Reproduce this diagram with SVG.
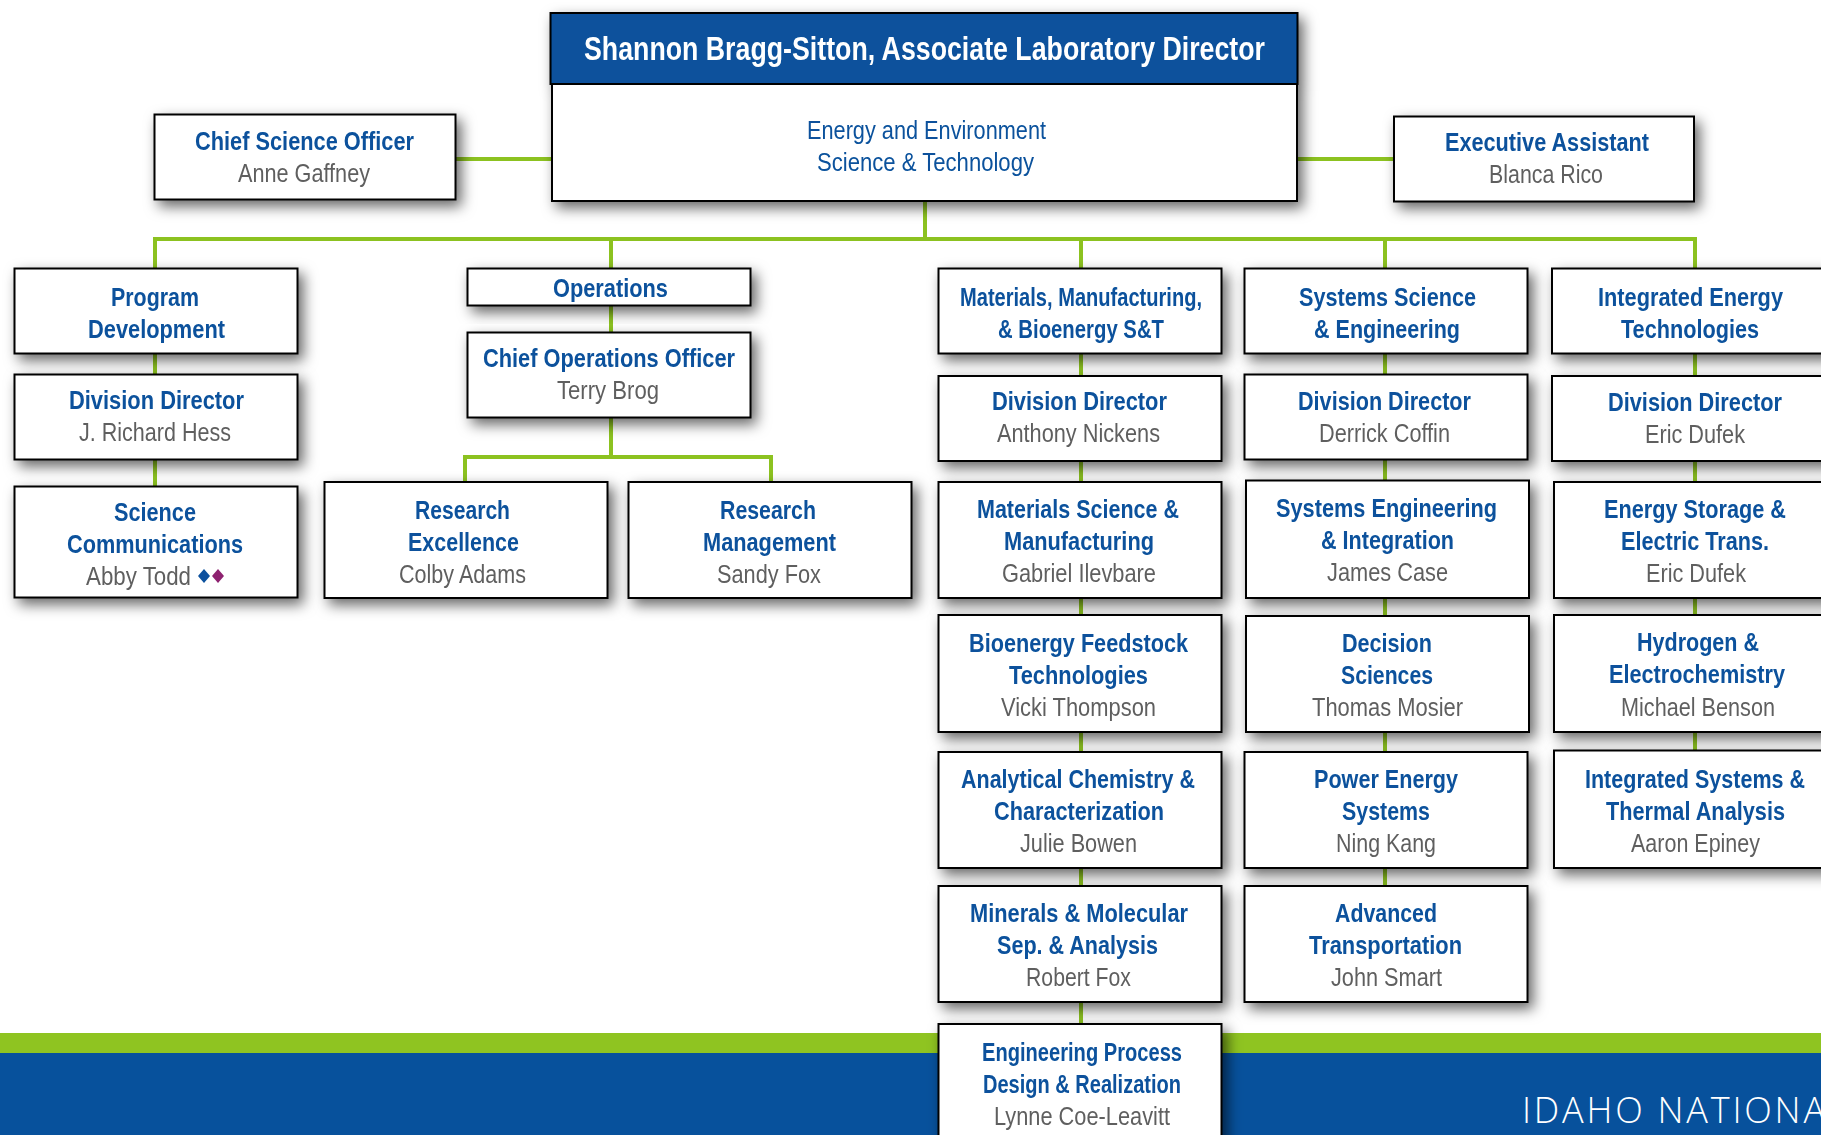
<svg xmlns="http://www.w3.org/2000/svg" width="1821" height="1135" viewBox="0 0 1821 1135">
<style>
text{font-family:"Liberation Sans",Arial,sans-serif;font-size:25px}
.t{font-weight:700;fill:#07519c}
.n{fill:#5f5f5f}
.s{fill:#07519c}
.box{fill:#fff;stroke:#000;stroke-width:2}
.c{stroke:#8cc220;stroke-width:4;fill:none}
</style>
<defs><filter id="sh" x="-25%" y="-40%" width="150%" height="190%"><feDropShadow dx="5" dy="6" stdDeviation="7" flood-color="#000" flood-opacity="0.6"/></filter></defs>
<g id="footer"><rect x="0" y="1033" width="1821" height="20" fill="#8fc421"/><rect x="0" y="1053" width="1821" height="82" fill="#07519c"/><text x="1522" y="1122.500" fill="#fff" style="font-family:'Open Sans',sans-serif;font-size:36px;font-weight:300" textLength="303" lengthAdjust="spacing">IDAHO NATIONA</text></g>
<g id="connectors">
<path class="c" d="M456 159H552M1298 159H1393M925 202V239M155 268V239H1695V268M611 239V268M1081 239V268M1385 239V268"/>
<path class="c" d="M155 354V486M611 306V332M611 418V457M465 482V457H771V482"/>
<path class="c" d="M1081 354V1024M1385 354V886M1695 354V750"/>
</g>
<g id="ald" filter="url(#sh)"><rect class="box" x="552" y="84" width="745" height="117"/><rect x="550.500" y="13" width="747" height="71" fill="#07519c" stroke="#000" stroke-width="2"/><text x="584" y="60" fill="#fff" font-weight="700" style="font-size:34px" textLength="681" lengthAdjust="spacingAndGlyphs">Shannon Bragg-Sitton, Associate Laboratory Director</text><text class="s" x="807" y="139" textLength="239" lengthAdjust="spacingAndGlyphs">Energy and Environment</text><text class="s" x="817" y="171" textLength="217" lengthAdjust="spacingAndGlyphs">Science &amp; Technology</text></g>
<g id="cso" filter="url(#sh)"><rect class="box" x="154.500" y="114.500" width="301" height="85"/><text class="t" x="195" y="150" textLength="219" lengthAdjust="spacingAndGlyphs">Chief Science Officer</text><text class="n" x="238" y="182" textLength="132" lengthAdjust="spacingAndGlyphs">Anne Gaffney</text></g>
<g id="ea" filter="url(#sh)"><rect class="box" x="1394" y="116.500" width="300" height="85"/><text class="t" x="1445" y="151" textLength="204" lengthAdjust="spacingAndGlyphs">Executive Assistant</text><text class="n" x="1489" y="183" textLength="114" lengthAdjust="spacingAndGlyphs">Blanca Rico</text></g>
<g id="pd" filter="url(#sh)"><rect class="box" x="14.500" y="268.500" width="283" height="85"/><text class="t" x="111" y="306" textLength="88" lengthAdjust="spacingAndGlyphs">Program</text><text class="t" x="88" y="338" textLength="137" lengthAdjust="spacingAndGlyphs">Development</text></g>
<g id="pd-dd" filter="url(#sh)"><rect class="box" x="14.500" y="374.500" width="283" height="85"/><text class="t" x="69" y="409" textLength="175" lengthAdjust="spacingAndGlyphs">Division Director</text><text class="n" x="79" y="441" textLength="152" lengthAdjust="spacingAndGlyphs">J. Richard Hess</text></g>
<g id="sc" filter="url(#sh)"><rect class="box" x="14.500" y="486.500" width="283" height="111"/><text class="t" x="114" y="521" textLength="82" lengthAdjust="spacingAndGlyphs">Science</text><text class="t" x="67" y="553" textLength="176" lengthAdjust="spacingAndGlyphs">Communications</text><text class="n" x="86" y="585" textLength="105" lengthAdjust="spacingAndGlyphs">Abby Todd</text><path d="M204 569l6 7-6 7-6-7z" fill="#0a519e"/><path d="M218 569l6 7-6 7-6-7z" fill="#8e2270"/></g>
<g id="ops" filter="url(#sh)"><rect class="box" x="467.500" y="268.500" width="283" height="37"/><text class="t" x="553" y="297" textLength="115" lengthAdjust="spacingAndGlyphs">Operations</text></g>
<g id="coo" filter="url(#sh)"><rect class="box" x="467.500" y="332.500" width="283" height="85"/><text class="t" x="483" y="367" textLength="252" lengthAdjust="spacingAndGlyphs">Chief Operations Officer</text><text class="n" x="557" y="399" textLength="102" lengthAdjust="spacingAndGlyphs">Terry Brog</text></g>
<g id="re" filter="url(#sh)"><rect class="box" x="324.500" y="482" width="283" height="116"/><text class="t" x="415" y="519" textLength="95" lengthAdjust="spacingAndGlyphs">Research</text><text class="t" x="408" y="551" textLength="111" lengthAdjust="spacingAndGlyphs">Excellence</text><text class="n" x="399" y="583" textLength="127" lengthAdjust="spacingAndGlyphs">Colby Adams</text></g>
<g id="rm" filter="url(#sh)"><rect class="box" x="628.500" y="482" width="283" height="116"/><text class="t" x="720" y="519" textLength="96" lengthAdjust="spacingAndGlyphs">Research</text><text class="t" x="703" y="551" textLength="133" lengthAdjust="spacingAndGlyphs">Management</text><text class="n" x="717" y="583" textLength="104" lengthAdjust="spacingAndGlyphs">Sandy Fox</text></g>
<g id="mmb" filter="url(#sh)"><rect class="box" x="938.500" y="268.500" width="283" height="85"/><text class="t" x="960" y="306" textLength="242" lengthAdjust="spacingAndGlyphs">Materials, Manufacturing,</text><text class="t" x="998" y="338" textLength="166" lengthAdjust="spacingAndGlyphs">&amp; Bioenergy S&amp;T</text></g>
<g id="mmb-dd" filter="url(#sh)"><rect class="box" x="938.500" y="376" width="283" height="85"/><text class="t" x="992" y="410" textLength="175" lengthAdjust="spacingAndGlyphs">Division Director</text><text class="n" x="997" y="442" textLength="163" lengthAdjust="spacingAndGlyphs">Anthony Nickens</text></g>
<g id="msm" filter="url(#sh)"><rect class="box" x="938.500" y="482" width="283" height="116"/><text class="t" x="977" y="518" textLength="202" lengthAdjust="spacingAndGlyphs">Materials Science &amp;</text><text class="t" x="1004" y="550" textLength="150" lengthAdjust="spacingAndGlyphs">Manufacturing</text><text class="n" x="1002" y="582" textLength="154" lengthAdjust="spacingAndGlyphs">Gabriel Ilevbare</text></g>
<g id="bft" filter="url(#sh)"><rect class="box" x="938.500" y="615" width="283" height="117"/><text class="t" x="969" y="652" textLength="219" lengthAdjust="spacingAndGlyphs">Bioenergy Feedstock</text><text class="t" x="1009" y="684" textLength="139" lengthAdjust="spacingAndGlyphs">Technologies</text><text class="n" x="1001" y="716" textLength="155" lengthAdjust="spacingAndGlyphs">Vicki Thompson</text></g>
<g id="acc" filter="url(#sh)"><rect class="box" x="938.500" y="752" width="283" height="116"/><text class="t" x="961" y="788" textLength="234" lengthAdjust="spacingAndGlyphs">Analytical Chemistry &amp;</text><text class="t" x="994" y="820" textLength="170" lengthAdjust="spacingAndGlyphs">Characterization</text><text class="n" x="1020" y="852" textLength="117" lengthAdjust="spacingAndGlyphs">Julie Bowen</text></g>
<g id="mms" filter="url(#sh)"><rect class="box" x="938.500" y="886" width="283" height="116"/><text class="t" x="970" y="922" textLength="218" lengthAdjust="spacingAndGlyphs">Minerals &amp; Molecular</text><text class="t" x="997" y="954" textLength="161" lengthAdjust="spacingAndGlyphs">Sep. &amp; Analysis</text><text class="n" x="1026" y="986" textLength="105" lengthAdjust="spacingAndGlyphs">Robert Fox</text></g>
<g id="epd" filter="url(#sh)"><rect class="box" x="938.500" y="1024" width="283" height="130"/><text class="t" x="982" y="1061" textLength="200" lengthAdjust="spacingAndGlyphs">Engineering Process</text><text class="t" x="983" y="1093" textLength="198" lengthAdjust="spacingAndGlyphs">Design &amp; Realization</text><text class="n" x="994" y="1125" textLength="176" lengthAdjust="spacingAndGlyphs">Lynne Coe-Leavitt</text></g>
<g id="sse" filter="url(#sh)"><rect class="box" x="1244.500" y="268.500" width="283" height="85"/><text class="t" x="1299" y="306" textLength="177" lengthAdjust="spacingAndGlyphs">Systems Science</text><text class="t" x="1314" y="338" textLength="146" lengthAdjust="spacingAndGlyphs">&amp; Engineering</text></g>
<g id="sse-dd" filter="url(#sh)"><rect class="box" x="1244.500" y="374.500" width="283" height="85"/><text class="t" x="1298" y="410" textLength="173" lengthAdjust="spacingAndGlyphs">Division Director</text><text class="n" x="1319" y="442" textLength="131" lengthAdjust="spacingAndGlyphs">Derrick Coffin</text></g>
<g id="sei" filter="url(#sh)"><rect class="box" x="1246" y="480.500" width="283" height="117.500"/><text class="t" x="1276" y="517" textLength="221" lengthAdjust="spacingAndGlyphs">Systems Engineering</text><text class="t" x="1321" y="549" textLength="133" lengthAdjust="spacingAndGlyphs">&amp; Integration</text><text class="n" x="1327" y="581" textLength="121" lengthAdjust="spacingAndGlyphs">James Case</text></g>
<g id="ds" filter="url(#sh)"><rect class="box" x="1246" y="616" width="283" height="116"/><text class="t" x="1342" y="652" textLength="90" lengthAdjust="spacingAndGlyphs">Decision</text><text class="t" x="1341" y="684" textLength="92" lengthAdjust="spacingAndGlyphs">Sciences</text><text class="n" x="1312" y="716" textLength="151" lengthAdjust="spacingAndGlyphs">Thomas Mosier</text></g>
<g id="pes" filter="url(#sh)"><rect class="box" x="1244.500" y="752" width="283" height="116"/><text class="t" x="1314" y="788" textLength="144" lengthAdjust="spacingAndGlyphs">Power Energy</text><text class="t" x="1342" y="820" textLength="88" lengthAdjust="spacingAndGlyphs">Systems</text><text class="n" x="1336" y="852" textLength="100" lengthAdjust="spacingAndGlyphs">Ning Kang</text></g>
<g id="at" filter="url(#sh)"><rect class="box" x="1244.500" y="886" width="283" height="116"/><text class="t" x="1335" y="922" textLength="102" lengthAdjust="spacingAndGlyphs">Advanced</text><text class="t" x="1309" y="954" textLength="153" lengthAdjust="spacingAndGlyphs">Transportation</text><text class="n" x="1331" y="986" textLength="111" lengthAdjust="spacingAndGlyphs">John Smart</text></g>
<g id="iet" filter="url(#sh)"><rect class="box" x="1552" y="268.500" width="290" height="85"/><text class="t" x="1598" y="306" textLength="185" lengthAdjust="spacingAndGlyphs">Integrated Energy</text><text class="t" x="1621" y="338" textLength="138" lengthAdjust="spacingAndGlyphs">Technologies</text></g>
<g id="iet-dd" filter="url(#sh)"><rect class="box" x="1552" y="376" width="290" height="85"/><text class="t" x="1608" y="411" textLength="174" lengthAdjust="spacingAndGlyphs">Division Director</text><text class="n" x="1645" y="443" textLength="100" lengthAdjust="spacingAndGlyphs">Eric Dufek</text></g>
<g id="est" filter="url(#sh)"><rect class="box" x="1554" y="482" width="290" height="116"/><text class="t" x="1604" y="518" textLength="182" lengthAdjust="spacingAndGlyphs">Energy Storage &amp;</text><text class="t" x="1621" y="550" textLength="148" lengthAdjust="spacingAndGlyphs">Electric Trans.</text><text class="n" x="1646" y="582" textLength="100" lengthAdjust="spacingAndGlyphs">Eric Dufek</text></g>
<g id="he" filter="url(#sh)"><rect class="box" x="1554" y="615" width="290" height="117"/><text class="t" x="1637" y="651" textLength="122" lengthAdjust="spacingAndGlyphs">Hydrogen &amp;</text><text class="t" x="1609" y="683" textLength="176" lengthAdjust="spacingAndGlyphs">Electrochemistry</text><text class="n" x="1621" y="716" textLength="154" lengthAdjust="spacingAndGlyphs">Michael Benson</text></g>
<g id="ista" filter="url(#sh)"><rect class="box" x="1554" y="750.500" width="290" height="117.500"/><text class="t" x="1585" y="788" textLength="220" lengthAdjust="spacingAndGlyphs">Integrated Systems &amp;</text><text class="t" x="1606" y="820" textLength="179" lengthAdjust="spacingAndGlyphs">Thermal Analysis</text><text class="n" x="1631" y="852" textLength="129" lengthAdjust="spacingAndGlyphs">Aaron Epiney</text></g>
</svg>
